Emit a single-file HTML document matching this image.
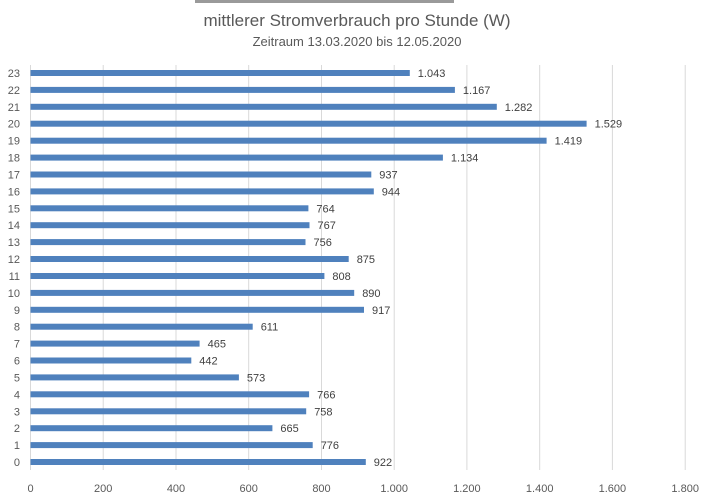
<!DOCTYPE html>
<html><head><meta charset="utf-8"><style>body{margin:0;background:#fff}svg{display:block}</style></head><body>
<svg width="714" height="500" xmlns="http://www.w3.org/2000/svg" font-family="Liberation Sans, sans-serif">
<rect width="714" height="500" fill="#fff"/>
<rect x="195" y="0" width="259" height="3" fill="#9a9a9a"/>
<text x="357" y="26" text-anchor="middle" font-size="17" fill="#595959">mittlerer Stromverbrauch pro Stunde (W)</text>
<text x="357" y="46" text-anchor="middle" font-size="13" fill="#595959">Zeitraum 13.03.2020 bis 12.05.2020</text>
<g stroke="#d9d9d9" stroke-width="1">
<line x1="30.5" y1="65" x2="30.5" y2="470"/><line x1="103.2" y1="65" x2="103.2" y2="470"/><line x1="176" y1="65" x2="176" y2="470"/><line x1="248.7" y1="65" x2="248.7" y2="470"/><line x1="321.5" y1="65" x2="321.5" y2="470"/><line x1="394.2" y1="65" x2="394.2" y2="470"/><line x1="466.9" y1="65" x2="466.9" y2="470"/><line x1="539.7" y1="65" x2="539.7" y2="470"/><line x1="612.4" y1="65" x2="612.4" y2="470"/><line x1="685.2" y1="65" x2="685.2" y2="470"/>
</g>
<g font-size="11" fill="#595959" text-anchor="middle">
<text x="30.5" y="492">0</text><text x="103.2" y="492">200</text><text x="176" y="492">400</text><text x="248.7" y="492">600</text><text x="321.5" y="492">800</text><text x="394.2" y="492">1.000</text><text x="466.9" y="492">1.200</text><text x="539.7" y="492">1.400</text><text x="612.4" y="492">1.600</text><text x="685.2" y="492">1.800</text>
</g>
<g fill="#4f81bd">
<rect x="30.5" y="459" width="335.3" height="6"/>
<rect x="30.5" y="442.1" width="282.2" height="6"/>
<rect x="30.5" y="425.2" width="241.9" height="6"/>
<rect x="30.5" y="408.3" width="275.7" height="6"/>
<rect x="30.5" y="391.3" width="278.6" height="6"/>
<rect x="30.5" y="374.4" width="208.4" height="6"/>
<rect x="30.5" y="357.5" width="160.8" height="6"/>
<rect x="30.5" y="340.6" width="169.1" height="6"/>
<rect x="30.5" y="323.7" width="222.2" height="6"/>
<rect x="30.5" y="306.8" width="333.5" height="6"/>
<rect x="30.5" y="289.9" width="323.7" height="6"/>
<rect x="30.5" y="273" width="293.9" height="6"/>
<rect x="30.5" y="256" width="318.2" height="6"/>
<rect x="30.5" y="239.1" width="275" height="6"/>
<rect x="30.5" y="222.2" width="279" height="6"/>
<rect x="30.5" y="205.3" width="277.9" height="6"/>
<rect x="30.5" y="188.4" width="343.3" height="6"/>
<rect x="30.5" y="171.5" width="340.8" height="6"/>
<rect x="30.5" y="154.6" width="412.4" height="6"/>
<rect x="30.5" y="137.7" width="516.1" height="6"/>
<rect x="30.5" y="120.7" width="556.1" height="6"/>
<rect x="30.5" y="103.8" width="466.3" height="6"/>
<rect x="30.5" y="86.9" width="424.4" height="6"/>
<rect x="30.5" y="70" width="379.3" height="6"/>
</g>
<g font-size="11" fill="#404040">
<text x="373.8" y="466">922</text>
<text x="320.7" y="449.1">776</text>
<text x="280.4" y="432.2">665</text>
<text x="314.2" y="415.3">758</text>
<text x="317.1" y="398.3">766</text>
<text x="246.9" y="381.4">573</text>
<text x="199.3" y="364.5">442</text>
<text x="207.6" y="347.6">465</text>
<text x="260.7" y="330.7">611</text>
<text x="372" y="313.8">917</text>
<text x="362.2" y="296.9">890</text>
<text x="332.4" y="280">808</text>
<text x="356.7" y="263">875</text>
<text x="313.5" y="246.1">756</text>
<text x="317.5" y="229.2">767</text>
<text x="316.4" y="212.3">764</text>
<text x="381.8" y="195.4">944</text>
<text x="379.3" y="178.5">937</text>
<text x="450.9" y="161.6">1.134</text>
<text x="554.6" y="144.7">1.419</text>
<text x="594.6" y="127.7">1.529</text>
<text x="504.8" y="110.8">1.282</text>
<text x="462.9" y="93.9">1.167</text>
<text x="417.8" y="77">1.043</text>
</g>
<g font-size="11" fill="#595959" text-anchor="end">
<text x="20" y="466">0</text><text x="20" y="449.1">1</text><text x="20" y="432.2">2</text><text x="20" y="415.3">3</text><text x="20" y="398.3">4</text><text x="20" y="381.4">5</text><text x="20" y="364.5">6</text><text x="20" y="347.6">7</text><text x="20" y="330.7">8</text><text x="20" y="313.8">9</text><text x="20" y="296.9">10</text><text x="20" y="280">11</text><text x="20" y="263">12</text><text x="20" y="246.1">13</text><text x="20" y="229.2">14</text><text x="20" y="212.3">15</text><text x="20" y="195.4">16</text><text x="20" y="178.5">17</text><text x="20" y="161.6">18</text><text x="20" y="144.7">19</text><text x="20" y="127.7">20</text><text x="20" y="110.8">21</text><text x="20" y="93.9">22</text><text x="20" y="77">23</text>
</g>
</svg>
</body></html>
